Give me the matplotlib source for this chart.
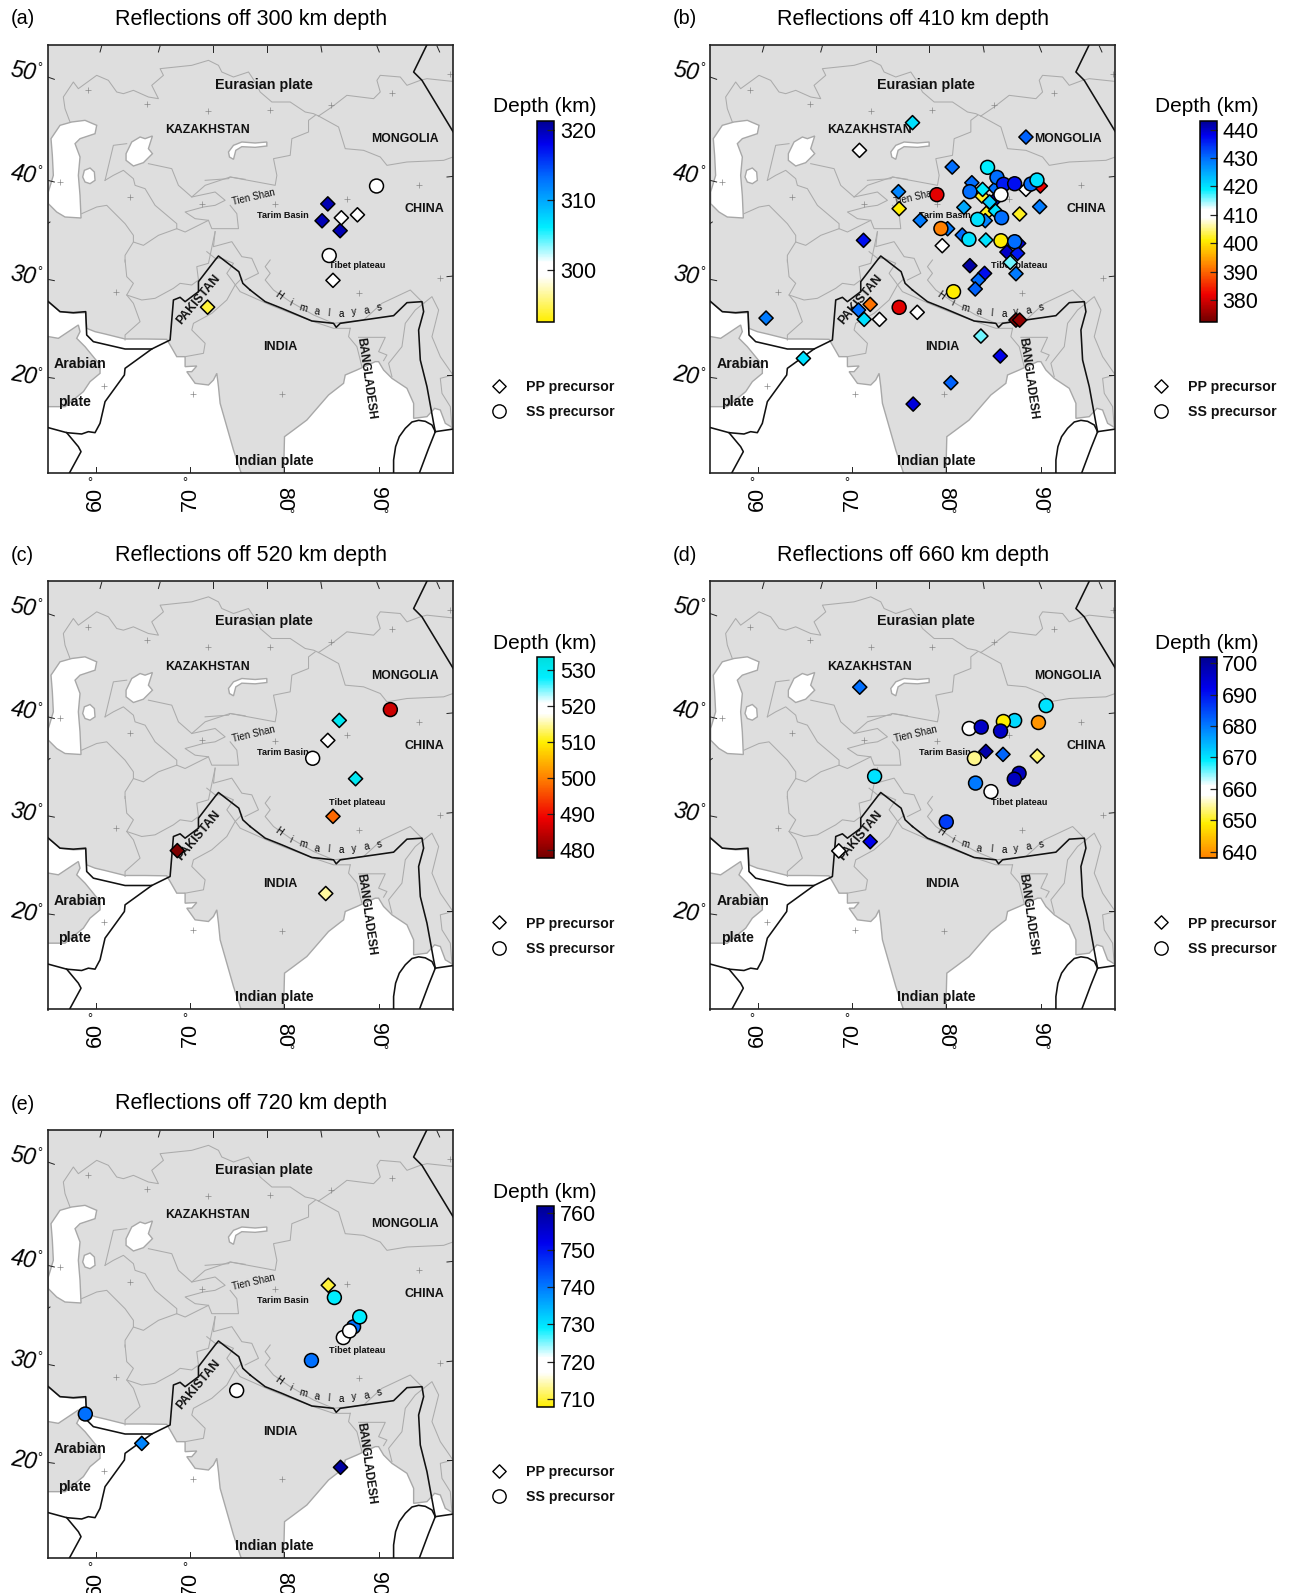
import matplotlib
matplotlib.use("Agg")
import matplotlib.pyplot as plt
from matplotlib.colors import LinearSegmentedColormap, Normalize
from matplotlib.cm import ScalarMappable
from matplotlib.patches import Polygon

plt.rcParams['font.family'] = ['Liberation Sans', 'DejaVu Sans']
W, H = 1291, 1593

# ---------- panel data: lon, lat, depth (km) ----------
A_PP_LON = [84.65, 84.04, 85.96, 86.09, 87.8, 85.2, 71.87]
A_PP_LAT = [37.4, 35.7, 34.7, 36.0, 36.3, 29.7, 27.0]
A_PP_DEP = [320, 320, 320, 300, 300, 300, 294]
A_SS_LON = [89.83, 84.8]
A_SS_LAT = [39.2, 32.2]
A_SS_DEP = [300, 300]

B_PP_LON = [76.40, 70.76, 88.46, 80.62, 74.91, 74.98, 77.22, 71.19, 81.86, 82.71, 85.2, 89.99, 88.46, 83.78, 85.2, 84.6, 83.85,
            89.92, 84.24, 85.23, 87.79, 84.13, 80.13, 81.69, 84.2, 87.68, 86.44, 87.57, 86.79, 82.5, 84.06, 83.39, 87.4, 83.07,
            71.9, 70.66, 71.26, 72.89, 76.9, 79.56, 87.4, 87.79, 83.67, 85.73, 64.8, 80.48, 76.47, 60.83]
B_PP_LAT = [45.58, 42.79, 44.13, 41.11, 38.63, 36.92, 35.74, 33.73, 37.05, 39.53, 38.96, 39.2, 38.86, 38.19, 37.86, 37.59, 38.86,
            37.12, 36.45, 36.68, 36.38, 35.71, 34.9, 34.26, 33.76, 33.42, 32.55, 32.42, 31.51, 31.18, 30.4, 29.73, 30.37, 28.83,
            27.28, 26.71, 25.77, 25.77, 26.48, 33.19, 25.7, 25.7, 24.09, 22.08, 21.84, 19.39, 17.24, 25.9]
B_PP_DEP = [420, 411, 431, 430, 428, 401, 429, 437, 425, 430, 430, 382, 411, 402, 438, 422, 419,
            429, 402, 420, 402, 428, 429, 430, 420, 438, 440, 436, 416, 442, 437, 430, 429, 431,
            391, 430, 420, 411, 411, 411, 374, 375, 416, 438, 420, 431, 439, 429]
B_SS_LON = [84.38, 85.38, 86.08, 87.26, 88.99, 89.63, 82.5, 85.8, 78.99, 83.32, 85.87, 79.42, 82.4, 85.8, 87.26, 80.76, 74.98]
B_SS_LAT = [41.08, 40.07, 39.37, 39.43, 39.4, 39.8, 38.63, 38.33, 38.33, 35.84, 36.01, 34.92, 33.83, 33.69, 33.59, 28.56, 26.98]
B_SS_DEP = [419, 430, 436, 437, 430, 420, 430, 411, 381, 420, 430, 392, 420, 401, 430, 401, 381]

C_PP_LON = [85.87, 84.65, 87.6, 85.2, 68.65, 84.43]
C_PP_LAT = [39.41, 37.4, 33.54, 29.75, 26.3, 21.98]
C_PP_DEP = [530, 521, 530, 498, 479, 515]
C_SS_LON = [91.3, 83.04]
C_SS_LAT = [40.5, 35.6]
C_SS_DEP = [486, 521]

D_PP_LON = [70.79, 84.2, 86.02, 89.66, 71.9, 68.56]
D_PP_LAT = [42.76, 36.29, 35.99, 35.82, 27.2, 26.27]
D_PP_DEP = [681, 699, 682, 653, 692, 660]
D_SS_LON = [90.6, 87.26, 86.06, 89.79, 82.43, 83.71, 85.76, 82.98, 87.73, 87.22, 83.1, 84.74, 72.37, 79.99]
D_SS_LAT = [40.9, 39.4, 39.3, 39.2, 38.6, 38.74, 38.34, 35.59, 34.08, 33.5, 33.1, 32.24, 33.78, 29.19]
D_SS_DEP = [670, 671, 649, 640, 660, 696, 696, 654, 697, 697, 680, 660, 670, 686]

E_PP_LON = [84.7, 64.87, 86.0]
E_PP_LAT = [37.77, 21.84, 19.43]
E_PP_DEP = [710, 739, 760]
E_SS_LON = [85.35, 87.39, 88.04, 86.3, 86.96, 82.91, 74.96, 58.87]
E_SS_LAT = [36.53, 33.58, 34.58, 32.5, 33.17, 30.19, 27.17, 24.8]
E_SS_DEP = [729, 741, 729, 720, 720, 741, 721, 741]

DARKRED, RED, ORANGE, YELLOW, WHITE = '#700000', '#f00000', '#ff8000', '#ffee00', '#ffffff'
CYAN, BLUE, DEEP, NAVY = '#00eeff', '#0070ff', '#0000ee', '#000090'

A_STOPS = [(292.5, YELLOW), (299, WHITE), (301, WHITE), (306, CYAN), (313, BLUE), (318, DEEP), (321.3, NAVY)]
B_STOPS = [(372.3, DARKRED), (382, RED), (392, ORANGE), (401, YELLOW), (409, WHITE), (412, WHITE), (419, CYAN), (430, BLUE), (438, DEEP), (443.2, NAVY)]
C_STOPS = [(477.7, DARKRED), (489, RED), (500, ORANGE), (510, YELLOW), (518, WHITE), (521, WHITE), (528, CYAN), (533.7, '#00dede')]
D_STOPS = [(637.8, ORANGE), (649, YELLOW), (658, WHITE), (661, WHITE), (669, CYAN), (681, BLUE), (692, DEEP), (702, NAVY)]
E_STOPS = [(707.8, YELLOW), (717, WHITE), (721, WHITE), (729, CYAN), (741, BLUE), (752, DEEP), (762, NAVY)]

A_TICKS = [300, 310, 320]
B_TICKS = [380, 390, 400, 410, 420, 430, 440]
C_TICKS = [480, 490, 500, 510, 520, 530]
D_TICKS = [640, 650, 660, 670, 680, 690, 700]
E_TICKS = [710, 720, 730, 740, 750, 760]

# ---------- base map, traced (sheet units, converted to lon/lat below) ----------
Q4, Q5, Q6, Q7 = (135, 126), (750, 126), (135, 780), (750, 780)
XLIM = (54.87, 97.96)
YLIM = (10.30, 53.40)

def geo(origin, pts):
    ox, oy = origin
    return [(54.87 + ((ox + x) / 3 - 47.7) * 0.1064, 53.4 - ((oy + y) / 3 - 45) * 0.1007) for x, y in pts]

SEAS = [
    geo(Q6, [(8,122),(45,155),(85,160),(122,158),(125,205),(150,215),(180,222),(240,237),(300,237),(365,238),(375,255),
             (395,290),(420,290),(420,320),(455,318),(440,335),(425,335),(450,370),(490,375),(505,360),(515,340),(520,380),
             (525,430),(545,500),(565,570),(590,645),(0,645),(0,440),(60,440),(115,395),(135,365),(165,340),(165,315),(120,260),
             (95,235),(105,215),(100,195),(40,235),(0,228),(0,118)]),
    geo(Q7, [(100,645),(103,530),(130,510),(170,480),(235,405),(280,370),(285,345),(320,330),(375,305),(385,305),(400,330),
             (425,355),(470,385),(490,430),(490,475),(530,470),(553,445),(570,450),(585,490),(610,505),(610,645)]),
    geo(Q4, [(18,290),(45,250),(80,240),(120,235),(155,250),(150,275),(105,290),(90,305),(105,345),(100,400),(105,460),(108,528),
             (60,525),(35,510),(10,485),(10,450),(25,400),(22,340)]),
    geo(Q4, [(118,385),(135,378),(148,390),(150,415),(135,425),(120,420),(113,405)]),
    geo(Q4, [(243,335),(260,300),(285,285),(300,290),(322,282),(310,320),(322,335),(295,362),(265,372),(243,355)]),
    geo(Q4, [(550,330),(565,310),(590,300),(630,303),(665,300),(665,312),(630,316),(590,314),(572,325),(565,352),(553,345)]),
]

BORDERS = [
    geo(Q4, [(75,240),(60,200),(55,165),(85,120),(100,140),(155,100),(190,115),(215,150),(235,155),(265,145),(310,165),(340,170),
             (320,130),(355,100),(345,80),(440,70),(490,55),(520,70),(530,90),(565,105),(610,90),(630,120),(645,150),(680,180),
             (735,180),(780,210),(805,215),(820,222)]),
    geo(Q5, [(205,222),(245,195),(290,160),(370,170),(390,150),(380,115),(390,100),(450,105),(470,130),(510,115),(530,110),(605,118)]),
    geo(Q5, [(205,222),(265,255),(285,320),(340,325),(390,345),(410,370),(470,360),(580,355),(608,345)]),
    geo(Q5, [(195,220),(175,235),(175,270),(125,290),(120,340),(70,350),(80,400),(75,430),(-60,405),(-65,410),(-135,415)]),
    geo(Q4, [(180,415),(205,310),(245,305)]),
    geo(Q4, [(310,365),(380,380),(400,430),(440,465),(480,430),(555,405),(600,412)]),
    geo(Q4, [(440,465),(510,450),(540,475),(510,490),(475,495),(420,510),(450,530),(490,535),(500,560),(580,560),(575,515),(555,490)]),
    geo(Q4, [(110,515),(155,495),(185,490),(240,545),(265,580),(265,600),(295,610),(340,580),(395,560),(420,570),(490,535)]),
    geo(Q4, [(180,415),(205,400),(235,385),(265,410),(270,430),(300,440),(330,490),(395,545),(395,560)]),
    geo(Q4, [(265,600),(240,640),(240,660)]),
    geo(Q6, [(240,0),(245,50),(265,70),(245,105),(265,130),(285,185),(240,225),(240,240)]),
    geo(Q6, [(245,105),(290,120),(330,115),(385,85),(405,70),(440,75),(460,60),(455,20),(490,10),(510,-85)]),
    geo(Q6, [(510,-85),(505,-40),(560,-55),(590,-10),(620,-5),(640,40),(600,60)]),
    geo(Q6, [(590,55),(570,75),(545,120),(500,160),(445,190),(440,210),(480,250),(475,280),(420,290)]),
    geo(Q7, [(-130,-25),(-105,-5),(-85,-5),(-50,10),(-70,40),(-55,60),(-30,95),(60,135),(110,155),(190,185),(250,205),(300,205)]),
    geo(Q7, [(60,0),(45,20),(60,40),(45,60),(70,90),(120,125),(190,165),(250,190),(340,180),(395,130),(480,90),(520,130)]),
    geo(Q7, [(300,205),(295,230),(320,260),(335,320)]),
    geo(Q7, [(325,232),(405,232),(385,275),(410,285),(400,302)]),
    geo(Q7, [(520,130),(495,150),(465,190),(455,260),(415,310),(425,350)]),
    geo(Q7, [(520,130),(545,110),(565,150),(545,230),(570,290),(608,345)]),
    geo(Q7, [(608,345),(570,355),(575,400),(600,440),(605,505)]),
]

PLATES = [
    geo(Q6, [(0,118),(10,125),(45,155),(85,158),(122,155),(125,225),(145,245),(240,267),(320,267),(375,240),(385,120),(405,112),
             (420,125),(460,95),(460,65),(510,0),(520,-12),(581,35),(593,70),(615,90)]),
    geo(Q7, [(0,90),(45,125),(95,145),(185,183),(250,190),(258,202),(270,190),(430,167),(470,128),(515,125),(520,155),(505,210),
             (510,300),(530,380),(550,490),(555,515)]),
    geo(Q6, [(320,267),(240,325),(238,345),(180,425),(165,490),(150,518),(130,515),(110,522),(65,518),(10,503),(0,500)]),
    geo(Q6, [(65,518),(100,560),(108,575),(70,645)]),
    geo(Q7, [(555,515),(545,495),(525,484),(505,481),(485,486),(465,505),(447,530),(436,560),(430,600),(430,645)]),
    geo(Q7, [(555,515),(610,507)]),
    geo(Q7, [(555,515),(535,565),(505,645)]),
    geo(Q5, [(530,8),(490,90),(515,115),(610,272)]),
]

GRAT_TICKS = [
    geo(Q4, [(170,12),(165,30)]), geo(Q4, [(345,12),(340,30)]), geo(Q4, [(505,12),(505,30)]),
    geo(Q5, [(50,12),(50,30)]), geo(Q5, [(212,12),(215,30)]), geo(Q5, [(380,12),(387,30)]), geo(Q5, [(560,12),(568,30)]),
    geo(Q5, [(590,405),(610,403)]), geo(Q4, [(8,105),(28,112)]), geo(Q4, [(8,415),(28,420)]), geo(Q4, [(8,545),(15,540)]),
    geo(Q6, [(8,58),(28,62)]), geo(Q6, [(8,352),(28,355)]), geo(Q6, [(152,620),(152,640)]), geo(Q6, [(435,620),(435,640)]),
    geo(Q7, [(100,622),(100,640)]), geo(Q7, [(385,622),(385,640)]), geo(Q7, [(590,50),(610,48)]), geo(Q7, [(590,345),(610,345)]),
]

GRAT_CROSS = geo(Q4, [(128,145),(307,185),(490,207),(255,465),(45,420),(470,485)]) \
    + geo(Q5, [(60,205),(243,190),(425,152),(600,95),(290,470),(505,430),(75,487)]) \
    + geo(Q6, [(213,95),(178,377),(443,402)]) + geo(Q7, [(327,100),(570,55),(95,403)])

LABELS = [
    ("Eurasian plate", 77.83, 49.40, 10.3, 0),
    ("KAZAKHSTAN", 71.87, 44.81, 8.8, 0),
    ("MONGOLIA", 92.90, 43.90, 8.8, 0),
    ("CHINA", 94.87, 36.86, 9, 0),
    ("INDIA", 79.57, 22.95, 9, 0),
    ("Arabian", 58.35, 21.27, 10.2, 0),
    ("plate", 57.74, 17.49, 10.2, 0),
    ("Indian plate", 78.96, 11.55, 10.2, 0),
    ("BANGLADESH", 88.72, 19.83, 8.5, -82),
    ("PAKISTAN", 70.87, 27.78, 8.8, 50),
    ("Tien Shan", 76.74, 38.03, 7, 13),
    ("Tarim Basin", 79.87, 36.23, 6.6, 0),
    ("Tibet plateau", 87.74, 31.16, 6.6, 0),
]
HIMALAYA_TEXT = "Himalayas"
HIMALAYA_LON = [79.43, 80.65, 82.04, 83.48, 84.78, 86.13, 87.43, 88.78, 90.09]
HIMALAYA_LAT = [28.18, 27.41, 26.94, 26.54, 26.41, 26.34, 26.51, 26.68, 26.94]
HIMALAYA_ROT = [-35, -25, -15, -10, -5, 0, 5, 10, 15]

LAT_TICKS = [50, 40, 30, 20]
LAT_TEXT_Y = [50.75, 40.35, 30.15, 20.05]
LON_TICKS = [60, 70, 80, 90]
LON_TEXT_X = [59.9, 70.0, 79.9, 89.9]


def make_cmap(stops):
    lo, hi = stops[0][0], stops[-1][0]
    cm = LinearSegmentedColormap.from_list('d', [((v - lo) / (hi - lo), c) for v, c in stops], N=256)
    return cm, Normalize(lo, hi)


fig = plt.figure(figsize=(W / 100, H / 100), dpi=100, facecolor='white')


def rect(x0, y0, x1, y1):
    return [x0 / W, 1 - y1 / H, (x1 - x0) / W, (y1 - y0) / H]


def ftext(x, y, s, **kw):
    fig.text(x / W, 1 - y / H, s, **kw)


def panel(letter, depth_name, left, top, stops, ticks, pp, ss):
    right, bottom = left + 405.3, top + 428
    ax = fig.add_axes(rect(left, top, right, bottom))
    ax.set_xlim(*XLIM)
    ax.set_ylim(*YLIM)
    ax.set_facecolor('#dedede')
    ax.set_xticks([])
    ax.set_yticks([])
    for s in ax.spines.values():
        s.set_linewidth(1.2)
        s.set_color('#222222')
    for poly in SEAS:
        ax.add_patch(Polygon(poly, closed=True, fc='white', ec='#a8a8a8', lw=1.0, zorder=1))
    for line in BORDERS:
        ax.plot(*zip(*line), color='#ababab', lw=0.75, zorder=2, solid_joinstyle='round')
    for line in PLATES:
        ax.plot(*zip(*line), color='#111111', lw=1.15, zorder=3, solid_joinstyle='round')
    for line in GRAT_TICKS:
        ax.plot(*zip(*line), color='#222222', lw=0.7, zorder=3)
    ax.plot(*zip(*GRAT_CROSS), ls='none', marker='+', ms=4.5, mew=0.5, color='#888888', zorder=2)
    for s, x, y, fs, rot in LABELS:
        bold = 'normal' if s == 'Tien Shan' else 'bold'
        ax.text(x, y, s, fontsize=fs, fontweight=bold, rotation=rot, ha='center', va='center',
                rotation_mode='anchor', color='#111111', zorder=4)
    for ch, x, y, rot in zip(HIMALAYA_TEXT, HIMALAYA_LON, HIMALAYA_LAT, HIMALAYA_ROT):
        ax.text(x, y, ch, fontsize=7, rotation=rot, ha='center', va='center', color='black', zorder=4)

    cm, norm = make_cmap(stops)
    ax.scatter(pp[0], pp[1], c=pp[2], cmap=cm, norm=norm, marker='D', s=52, edgecolors='black', linewidths=1.1, zorder=5, clip_on=False)
    ax.scatter(ss[0], ss[1], c=ss[2], cmap=cm, norm=norm, marker='o', s=100, edgecolors='black', linewidths=1.1, zorder=6, clip_on=False)

    for v, y in zip(LAT_TICKS, LAT_TEXT_Y):
        ax.text(52.3, y, str(v), fontsize=16.5, style='italic', rotation=-10, ha='center', va='center', clip_on=False)
        ax.text(54.05, y + 0.35, '\u00b0', fontsize=9, ha='center', va='center', clip_on=False)
    for v, x in zip(LON_TICKS, LON_TEXT_X):
        rot = 90 if v < 75 else 270
        ax.text(x, 7.7, str(v), fontsize=15.5, rotation=rot, ha='center', va='center', clip_on=False)
        ax.text(x - 0.55 if v < 75 else x + 0.9, 9.3 if v < 75 else 6.1, '\u00b0', fontsize=9, ha='center', va='center', clip_on=False)

    ftext(left - 37, top - 26, '(%s)' % letter, fontsize=14.2, ha='left', va='center')
    ftext(left + 67, top - 26, 'Reflections off %s km depth' % depth_name, fontsize=15.5, ha='left', va='center')

    cax = fig.add_axes(rect(left + 489.5, top + 75.5, left + 506.5, top + 277))
    cb = fig.colorbar(ScalarMappable(norm=norm, cmap=cm), cax=cax, ticks=ticks)
    cb.outline.set_linewidth(1.1)
    cax.tick_params(direction='in', length=5, width=0.9, labelsize=15.5, pad=4, color='#222222')
    ftext(left + 445, top + 62, 'Depth (km)', fontsize=15, ha='left', va='center')

    lax = fig.add_axes(rect(left + 430, top + 325, left + 590, top + 380))
    lax.axis('off')
    lax.set_xlim(0, 160)
    lax.set_ylim(55, 0)
    lax.scatter([21], [16], marker='D', s=46, fc='white', ec='black', lw=1.0)
    lax.scatter([21], [41], marker='o', s=92, fc='white', ec='black', lw=1.0)
    ftext(left + 478, top + 342, 'PP precursor', fontsize=10.2, fontweight='bold', ha='left', va='center', color='#111111')
    ftext(left + 478, top + 367.5, 'SS precursor', fontsize=10.2, fontweight='bold', ha='left', va='center', color='#111111')


panel('a', '300', 47.7, 45, A_STOPS, A_TICKS, (A_PP_LON, A_PP_LAT, A_PP_DEP), (A_SS_LON, A_SS_LAT, A_SS_DEP))
panel('b', '410', 710, 45, B_STOPS, B_TICKS, (B_PP_LON, B_PP_LAT, B_PP_DEP), (B_SS_LON, B_SS_LAT, B_SS_DEP))
panel('c', '520', 47.7, 581.5, C_STOPS, C_TICKS, (C_PP_LON, C_PP_LAT, C_PP_DEP), (C_SS_LON, C_SS_LAT, C_SS_DEP))
panel('d', '660', 710, 581.5, D_STOPS, D_TICKS, (D_PP_LON, D_PP_LAT, D_PP_DEP), (D_SS_LON, D_SS_LAT, D_SS_DEP))
panel('e', '720', 47.7, 1130, E_STOPS, E_TICKS, (E_PP_LON, E_PP_LAT, E_PP_DEP), (E_SS_LON, E_SS_LAT, E_SS_DEP))

fig.savefig('out.png', dpi=100, facecolor='white')
